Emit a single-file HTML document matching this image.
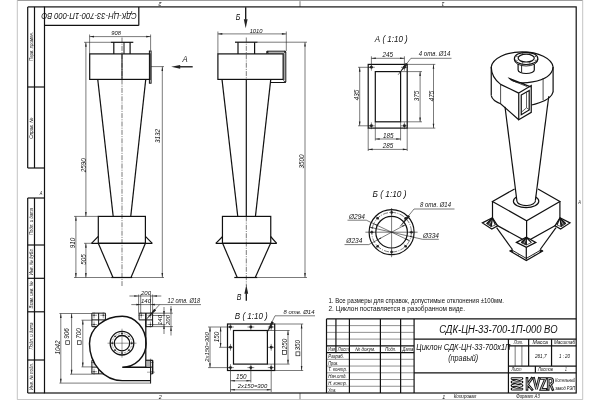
<!DOCTYPE html>
<html><head><meta charset="utf-8"><title>drawing</title>
<style>html,body{margin:0;padding:0;background:#fff}svg{display:block}text{font-family:"Liberation Sans",sans-serif}svg{filter:grayscale(1)}</style></head>
<body>
<svg width="600" height="400" viewBox="0 0 600 400">
<rect width="600" height="400" fill="#fff"/>
<line x1="17.3" y1="0.4" x2="582.7" y2="0.4" stroke="#777" stroke-width="0.8"/>
<line x1="17.3" y1="0.4" x2="17.3" y2="399.6" stroke="#b4b4b4" stroke-width="0.8"/>
<line x1="582.7" y1="0.4" x2="582.7" y2="399.6" stroke="#b4b4b4" stroke-width="0.8"/>
<line x1="17.3" y1="399.6" x2="582.7" y2="399.6" stroke="#b4b4b4" stroke-width="0.8"/>
<rect x="44.5" y="6.9" width="531.7" height="386.1" fill="none" stroke="#111" stroke-width="1.2"/>
<line x1="27.7" y1="6.9" x2="44.5" y2="6.9" stroke="#111" stroke-width="1.2"/>
<line x1="27.7" y1="6.9" x2="27.7" y2="168" stroke="#111" stroke-width="1.2"/>
<line x1="34.5" y1="6.9" x2="34.5" y2="168" stroke="#111" stroke-width="1.2"/>
<line x1="27.7" y1="87" x2="44.5" y2="87" stroke="#111" stroke-width="1.2"/>
<line x1="27.7" y1="168" x2="44.5" y2="168" stroke="#111" stroke-width="1.2"/>
<line x1="27.7" y1="198" x2="27.7" y2="393" stroke="#111" stroke-width="1.2"/>
<line x1="34.5" y1="198" x2="34.5" y2="393" stroke="#111" stroke-width="1.2"/>
<line x1="27.7" y1="198" x2="44.5" y2="198" stroke="#111" stroke-width="1.2"/>
<line x1="27.7" y1="245" x2="44.5" y2="245" stroke="#111" stroke-width="1.2"/>
<line x1="27.7" y1="278.3" x2="44.5" y2="278.3" stroke="#111" stroke-width="1.2"/>
<line x1="27.7" y1="311.8" x2="44.5" y2="311.8" stroke="#111" stroke-width="1.2"/>
<line x1="27.7" y1="360" x2="44.5" y2="360" stroke="#111" stroke-width="1.2"/>
<line x1="27.7" y1="393" x2="44.5" y2="393" stroke="#111" stroke-width="1.2"/>
<text transform="translate(32.8 46.5) rotate(-90)" font-size="5" font-style="italic" font-weight="normal" text-anchor="middle" fill="#111" textLength="29" lengthAdjust="spacingAndGlyphs">Перв. примен.</text>
<text transform="translate(32.8 128.3) rotate(-90)" font-size="5" font-style="italic" font-weight="normal" text-anchor="middle" fill="#111" textLength="21" lengthAdjust="spacingAndGlyphs">Справ. №</text>
<text transform="translate(32.8 221.5) rotate(-90)" font-size="5" font-style="italic" font-weight="normal" text-anchor="middle" fill="#111" textLength="27" lengthAdjust="spacingAndGlyphs">Подп. и дата</text>
<text transform="translate(32.8 261.7) rotate(-90)" font-size="5" font-style="italic" font-weight="normal" text-anchor="middle" fill="#111" textLength="27" lengthAdjust="spacingAndGlyphs">Инв. № дубл.</text>
<text transform="translate(32.8 295) rotate(-90)" font-size="5" font-style="italic" font-weight="normal" text-anchor="middle" fill="#111" textLength="27" lengthAdjust="spacingAndGlyphs">Взам. инв. №</text>
<text transform="translate(32.8 336) rotate(-90)" font-size="5" font-style="italic" font-weight="normal" text-anchor="middle" fill="#111" textLength="27" lengthAdjust="spacingAndGlyphs">Подп. и дата</text>
<text transform="translate(32.8 376.5) rotate(-90)" font-size="5" font-style="italic" font-weight="normal" text-anchor="middle" fill="#111" textLength="27" lengthAdjust="spacingAndGlyphs">Инв. № подл.</text>
<text transform="translate(41 195) scale(0.8 1)" font-size="5" font-style="italic" font-weight="normal" text-anchor="middle" fill="#111">A</text>
<text transform="translate(579.6 204) scale(0.8 1)" font-size="5" font-style="italic" font-weight="normal" text-anchor="middle" fill="#111">A</text>
<text transform="translate(160 1.5) rotate(180)" font-size="5.4" font-style="italic" font-weight="normal" text-anchor="middle" fill="#111">2</text>
<text transform="translate(443 1.5) rotate(180)" font-size="5.4" font-style="italic" font-weight="normal" text-anchor="middle" fill="#111">1</text>
<text transform="translate(160.3 398.6)" font-size="5.4" font-style="italic" font-weight="normal" text-anchor="middle" fill="#111">2</text>
<text transform="translate(443.7 398.6)" font-size="5.4" font-style="italic" font-weight="normal" text-anchor="middle" fill="#111">1</text>
<line x1="300" y1="1.2" x2="300" y2="6.9" stroke="#222" stroke-width="0.6"/>
<line x1="300" y1="393" x2="300" y2="399.2" stroke="#222" stroke-width="0.6"/>
<line x1="44.5" y1="25.4" x2="138.8" y2="25.4" stroke="#111" stroke-width="1.2"/>
<line x1="138.8" y1="6.9" x2="138.8" y2="25.4" stroke="#111" stroke-width="1.2"/>
<text transform="translate(89.1 13.3) rotate(180)" font-size="9.8" font-style="italic" font-weight="normal" text-anchor="middle" fill="#111" textLength="95.5" lengthAdjust="spacingAndGlyphs">СДК-ЦН-33-700-1П-000 ВО</text>
<line x1="326.5" y1="318.88" x2="576.2" y2="318.88" stroke="#111" stroke-width="1.2"/>
<line x1="326.5" y1="318.88" x2="326.5" y2="393" stroke="#111" stroke-width="1.2"/>
<line x1="335.93" y1="318.88" x2="335.93" y2="352.57" stroke="#111" stroke-width="1.2"/>
<line x1="349.41" y1="318.88" x2="349.41" y2="393" stroke="#111" stroke-width="1.2"/>
<line x1="380.4" y1="318.88" x2="380.4" y2="393" stroke="#111" stroke-width="1.2"/>
<line x1="400.62" y1="318.88" x2="400.62" y2="393" stroke="#111" stroke-width="1.2"/>
<line x1="414.09" y1="318.88" x2="414.09" y2="393" stroke="#111" stroke-width="1.2"/>
<line x1="326.5" y1="386.26" x2="414.09" y2="386.26" stroke="#222" stroke-width="0.5"/>
<line x1="326.5" y1="379.52" x2="414.09" y2="379.52" stroke="#222" stroke-width="0.5"/>
<line x1="326.5" y1="372.79" x2="414.09" y2="372.79" stroke="#222" stroke-width="0.5"/>
<line x1="326.5" y1="366.05" x2="414.09" y2="366.05" stroke="#222" stroke-width="0.5"/>
<line x1="326.5" y1="359.31" x2="414.09" y2="359.31" stroke="#222" stroke-width="0.5"/>
<line x1="326.5" y1="352.57" x2="414.09" y2="352.57" stroke="#111" stroke-width="1.2"/>
<line x1="326.5" y1="345.83" x2="414.09" y2="345.83" stroke="#111" stroke-width="1.2"/>
<line x1="326.5" y1="339.1" x2="414.09" y2="339.1" stroke="#222" stroke-width="0.5"/>
<line x1="326.5" y1="332.36" x2="414.09" y2="332.36" stroke="#222" stroke-width="0.5"/>
<line x1="326.5" y1="325.62" x2="414.09" y2="325.62" stroke="#222" stroke-width="0.5"/>
<line x1="414.09" y1="339.1" x2="576.2" y2="339.1" stroke="#111" stroke-width="1.2"/>
<line x1="414.09" y1="372.79" x2="576.2" y2="372.79" stroke="#111" stroke-width="1.2"/>
<line x1="508.43" y1="339.1" x2="508.43" y2="393" stroke="#111" stroke-width="1.2"/>
<line x1="508.43" y1="345.83" x2="576.2" y2="345.83" stroke="#111" stroke-width="1.2"/>
<line x1="508.43" y1="366.05" x2="576.2" y2="366.05" stroke="#111" stroke-width="1.2"/>
<line x1="515.16" y1="345.83" x2="515.16" y2="366.05" stroke="#222" stroke-width="0.6"/>
<line x1="521.9" y1="345.83" x2="521.9" y2="366.05" stroke="#222" stroke-width="0.6"/>
<line x1="528.64" y1="339.1" x2="528.64" y2="366.05" stroke="#111" stroke-width="1.2"/>
<line x1="551.55" y1="339.1" x2="551.55" y2="366.05" stroke="#111" stroke-width="1.2"/>
<line x1="535.38" y1="366.05" x2="535.38" y2="372.79" stroke="#111" stroke-width="1.2"/>
<text transform="translate(328.3 351.07)" font-size="5" font-style="italic" font-weight="normal" text-anchor="start" fill="#111" textLength="6.7" lengthAdjust="spacingAndGlyphs">Изм</text>
<text transform="translate(337.8 351.07)" font-size="5" font-style="italic" font-weight="normal" text-anchor="start" fill="#111" textLength="10.9" lengthAdjust="spacingAndGlyphs">Лист</text>
<text transform="translate(355.3 351.07)" font-size="5" font-style="italic" font-weight="normal" text-anchor="start" fill="#111" textLength="20" lengthAdjust="spacingAndGlyphs">№ докум.</text>
<text transform="translate(385.3 351.07)" font-size="5" font-style="italic" font-weight="normal" text-anchor="start" fill="#111" textLength="10.9" lengthAdjust="spacingAndGlyphs">Подп.</text>
<text transform="translate(402.5 351.07)" font-size="5" font-style="italic" font-weight="normal" text-anchor="start" fill="#111" textLength="10.8" lengthAdjust="spacingAndGlyphs">Дата</text>
<text transform="translate(328.3 357.81)" font-size="5" font-style="italic" font-weight="normal" text-anchor="start" fill="#111" textLength="15.7" lengthAdjust="spacingAndGlyphs">Разраб.</text>
<text transform="translate(328.3 364.55)" font-size="5" font-style="italic" font-weight="normal" text-anchor="start" fill="#111" textLength="10" lengthAdjust="spacingAndGlyphs">Пров.</text>
<text transform="translate(328.3 371.29)" font-size="5" font-style="italic" font-weight="normal" text-anchor="start" fill="#111" textLength="18.7" lengthAdjust="spacingAndGlyphs">Т. контр.</text>
<text transform="translate(328.3 378.02)" font-size="5" font-style="italic" font-weight="normal" text-anchor="start" fill="#111" textLength="18.4" lengthAdjust="spacingAndGlyphs">Нач.отд.</text>
<text transform="translate(328.3 384.76)" font-size="5" font-style="italic" font-weight="normal" text-anchor="start" fill="#111" textLength="18.7" lengthAdjust="spacingAndGlyphs">Н. контр.</text>
<text transform="translate(328.3 391.5)" font-size="5" font-style="italic" font-weight="normal" text-anchor="start" fill="#111" textLength="8" lengthAdjust="spacingAndGlyphs">Утв.</text>
<text transform="translate(498.4 332.7)" font-size="10" font-style="italic" font-weight="normal" text-anchor="middle" fill="#111" textLength="118.2" lengthAdjust="spacingAndGlyphs">СДК-ЦН-33-700-1П-000 ВО</text>
<text transform="translate(463.4 349.8)" font-size="8.6" font-style="italic" font-weight="normal" text-anchor="middle" fill="#111" textLength="94.2" lengthAdjust="spacingAndGlyphs">Циклон СДК-ЦН-33-700х1П</text>
<text transform="translate(463.2 361.4)" font-size="8.6" font-style="italic" font-weight="normal" text-anchor="middle" fill="#111" textLength="30" lengthAdjust="spacingAndGlyphs">(правый)</text>
<text transform="translate(513.7 344.33)" font-size="5" font-style="italic" font-weight="normal" text-anchor="start" fill="#111" textLength="9.5" lengthAdjust="spacingAndGlyphs">Лит.</text>
<text transform="translate(532.5 344.33)" font-size="5" font-style="italic" font-weight="normal" text-anchor="start" fill="#111" textLength="15.5" lengthAdjust="spacingAndGlyphs">Масса</text>
<text transform="translate(554 344.33)" font-size="5" font-style="italic" font-weight="normal" text-anchor="start" fill="#111" textLength="21" lengthAdjust="spacingAndGlyphs">Масштаб</text>
<text transform="translate(535 357.7)" font-size="5.4" font-style="italic" font-weight="normal" text-anchor="start" fill="#111" textLength="11.5" lengthAdjust="spacingAndGlyphs">261,7</text>
<text transform="translate(559 357.7)" font-size="5.4" font-style="italic" font-weight="normal" text-anchor="start" fill="#111" textLength="11" lengthAdjust="spacingAndGlyphs">1 : 20</text>
<text transform="translate(511.5 371.29)" font-size="5" font-style="italic" font-weight="normal" text-anchor="start" fill="#111" textLength="10" lengthAdjust="spacingAndGlyphs">Лист</text>
<text transform="translate(538 371.29)" font-size="5" font-style="italic" font-weight="normal" text-anchor="start" fill="#111" textLength="15" lengthAdjust="spacingAndGlyphs">Листов</text>
<text transform="translate(565 371.29)" font-size="5" font-style="italic" font-weight="normal" text-anchor="start" fill="#111" textLength="1.8" lengthAdjust="spacingAndGlyphs">1</text>
<text transform="translate(453.7 398.2)" font-size="5" font-style="italic" font-weight="normal" text-anchor="start" fill="#111" textLength="22.5" lengthAdjust="spacingAndGlyphs">Копировал</text>
<text transform="translate(516.3 398.2)" font-size="5" font-style="italic" font-weight="normal" text-anchor="start" fill="#111" textLength="23.5" lengthAdjust="spacingAndGlyphs">Формат А3</text>
<text transform="translate(328.5 303.4)" font-size="6.8" font-style="normal" font-weight="normal" text-anchor="start" fill="#111" textLength="175.5" lengthAdjust="spacingAndGlyphs">1. Все размеры для справок, допустимые отклонения ±100мм.</text>
<text transform="translate(328.5 311.2)" font-size="6.8" font-style="normal" font-weight="normal" text-anchor="start" fill="#111" textLength="136.5" lengthAdjust="spacingAndGlyphs">2. Циклон поставляется в разобранном виде.</text>
<path d="M512 378.6L522 378.6L512 382.1L522 382.1L512 385.6L522 385.6L512 389.1L522 389.1" fill="none" stroke="#111" stroke-width="2.7" stroke-linejoin="round" stroke-linecap="round"/>
<path d="M512 378.6L522 378.6L512 382.1L522 382.1L512 385.6L522 385.6L512 389.1L522 389.1" fill="none" stroke="#fff" stroke-width="0.8" stroke-linejoin="round" stroke-linecap="round"/>
<path d="M527 378.4V389.5M531.8 378.4L527.6 384.3L532 389.5M533.8 378.4L536.5 389.3L539.2 378.4M540.8 378.5H545.6L540.9 389.4H546M548.2 389.5V378.5H550.6A2.1 2.7 0 0 1 550.6 384H548.4M550.3 384L552.7 389.5" fill="none" stroke="#111" stroke-width="2.6" stroke-linejoin="miter" stroke-linecap="square"/>
<path d="M527 378.4V389.5M531.8 378.4L527.6 384.3L532 389.5M533.8 378.4L536.5 389.3L539.2 378.4M540.8 378.5H545.6L540.9 389.4H546M548.2 389.5V378.5H550.6A2.1 2.7 0 0 1 550.6 384H548.4M550.3 384L552.7 389.5" fill="none" stroke="#fff" stroke-width="0.7" stroke-linejoin="miter" stroke-linecap="butt"/>
<text transform="translate(555.3 382.4)" font-size="4.8" font-style="italic" font-weight="normal" text-anchor="start" fill="#111" textLength="19.8" lengthAdjust="spacingAndGlyphs">Котельный</text>
<text transform="translate(555.3 389.7)" font-size="4.8" font-style="italic" font-weight="normal" text-anchor="start" fill="#111" textLength="19.8" lengthAdjust="spacingAndGlyphs">завод РЭП</text>
<line x1="122" y1="37.5" x2="122" y2="286" stroke="#222" stroke-width="0.6" stroke-dasharray="5 1.2 1 1.2"/>
<line x1="89.6" y1="34.5" x2="89.6" y2="53.9" stroke="#222" stroke-width="0.6"/>
<line x1="150.6" y1="34.5" x2="150.6" y2="50.5" stroke="#222" stroke-width="0.6"/>
<line x1="89.6" y1="36.6" x2="150.6" y2="36.6" stroke="#222" stroke-width="0.6"/>
<path d="M89.6 36.6L94 35.8L94 37.4Z" fill="#222"/>
<path d="M150.6 36.6L146.2 37.4L146.2 35.8Z" fill="#222"/>
<text transform="translate(116.1 35.4)" font-size="5.8" font-style="italic" font-weight="normal" text-anchor="middle" fill="#111">908</text>
<line x1="110.8" y1="42.3" x2="133.3" y2="42.3" stroke="#111" stroke-width="1.2"/>
<line x1="113.8" y1="42.3" x2="113.8" y2="53.9" stroke="#111" stroke-width="1.2"/>
<line x1="130.1" y1="42.3" x2="130.1" y2="53.9" stroke="#111" stroke-width="1.2"/>
<line x1="124" y1="42.3" x2="124" y2="53.9" stroke="#111" stroke-width="1"/>
<rect x="89.7" y="53.9" width="60.3" height="25.5" fill="none" stroke="#111" stroke-width="1.2"/>
<line x1="122" y1="53.9" x2="122" y2="79.4" stroke="#111" stroke-width="1"/>
<rect x="149.4" y="51" width="1.7" height="32.2" fill="none" stroke="#111" stroke-width="1"/>
<line x1="97.75" y1="79.4" x2="113.2" y2="216.4" stroke="#111" stroke-width="1.2"/>
<line x1="145.75" y1="79.4" x2="130.75" y2="216.4" stroke="#111" stroke-width="1.2"/>
<rect x="98.3" y="216.4" width="47.1" height="26.9" fill="none" stroke="#111" stroke-width="1.2"/>
<line x1="91.5" y1="243.3" x2="152.3" y2="243.3" stroke="#111" stroke-width="1.2"/>
<path d="M91.5 243.3L98.3 236.3M152.3 243.3L145.4 236.3" fill="none" stroke="#111" stroke-width="1.2"/>
<line x1="98.3" y1="243.3" x2="113" y2="277.5" stroke="#111" stroke-width="1.2"/>
<line x1="145.4" y1="243.3" x2="131" y2="277.5" stroke="#111" stroke-width="1.2"/>
<line x1="111.3" y1="277.5" x2="132.3" y2="277.5" stroke="#111" stroke-width="1.2"/>
<line x1="84" y1="42.3" x2="110.8" y2="42.3" stroke="#222" stroke-width="0.6"/>
<line x1="74" y1="216.4" x2="98.7" y2="216.4" stroke="#222" stroke-width="0.6"/>
<line x1="84" y1="243.3" x2="92" y2="243.3" stroke="#222" stroke-width="0.6"/>
<line x1="74" y1="277.5" x2="113" y2="277.5" stroke="#222" stroke-width="0.6"/>
<line x1="85.9" y1="42.3" x2="85.9" y2="216.4" stroke="#222" stroke-width="0.6"/>
<path d="M85.9 42.3L86.7 46.7L85.1 46.7Z" fill="#222"/>
<path d="M85.9 216.4L85.1 212L86.7 212Z" fill="#222"/>
<text transform="translate(85.7 165.2) rotate(-90)" font-size="6.3" font-style="italic" font-weight="normal" text-anchor="middle" fill="#111">2590</text>
<line x1="75.9" y1="216.4" x2="75.9" y2="277.5" stroke="#222" stroke-width="0.6"/>
<path d="M75.9 216.4L76.7 220.8L75.1 220.8Z" fill="#222"/>
<path d="M75.9 277.5L75.1 273.1L76.7 273.1Z" fill="#222"/>
<text transform="translate(74.7 243) rotate(-90)" font-size="6.3" font-style="italic" font-weight="normal" text-anchor="middle" fill="#111">910</text>
<line x1="85.9" y1="243.3" x2="85.9" y2="277.5" stroke="#222" stroke-width="0.6"/>
<path d="M85.9 243.3L86.7 247.7L85.1 247.7Z" fill="#222"/>
<path d="M85.9 277.5L85.1 273.1L86.7 273.1Z" fill="#222"/>
<text transform="translate(85.8 259.5) rotate(-90)" font-size="6.3" font-style="italic" font-weight="normal" text-anchor="middle" fill="#111">505</text>
<line x1="151" y1="66.6" x2="164" y2="66.6" stroke="#222" stroke-width="0.6"/>
<line x1="132" y1="277.5" x2="164" y2="277.5" stroke="#222" stroke-width="0.6"/>
<line x1="162.3" y1="66.6" x2="162.3" y2="277.5" stroke="#222" stroke-width="0.6"/>
<path d="M162.3 66.6L163.1 71L161.5 71Z" fill="#222"/>
<path d="M162.3 277.5L161.5 273.1L163.1 273.1Z" fill="#222"/>
<text transform="translate(160.4 136) rotate(-90)" font-size="6.3" font-style="italic" font-weight="normal" text-anchor="middle" fill="#111">3132</text>
<line x1="179.7" y1="66.8" x2="192.7" y2="66.8" stroke="#111" stroke-width="1.3"/>
<path d="M171.2 66.8L180.2 64.9L180.2 68.7Z" fill="#222"/>
<text transform="translate(185 62.2) scale(0.9 1)" font-size="8.6" font-style="italic" font-weight="normal" text-anchor="middle" fill="#111">A</text>
<line x1="245.7" y1="19.8" x2="245.7" y2="7.3" stroke="#111" stroke-width="1.3"/>
<path d="M245.7 28.3L243.8 19.3L247.6 19.3Z" fill="#222"/>
<text transform="translate(238 19.6) scale(0.82 1)" font-size="8.6" font-style="italic" font-weight="normal" text-anchor="middle" fill="#111">Б</text>
<line x1="217.9" y1="31.5" x2="217.9" y2="53.9" stroke="#222" stroke-width="0.6"/>
<line x1="286.3" y1="31.5" x2="286.3" y2="51" stroke="#222" stroke-width="0.6"/>
<line x1="217.9" y1="33.9" x2="286.3" y2="33.9" stroke="#222" stroke-width="0.6"/>
<path d="M217.9 33.9L222.3 33.1L222.3 34.7Z" fill="#222"/>
<path d="M286.3 33.9L281.9 34.7L281.9 33.1Z" fill="#222"/>
<text transform="translate(256.1 32.5)" font-size="5.8" font-style="italic" font-weight="normal" text-anchor="middle" fill="#111">1010</text>
<line x1="235" y1="42.2" x2="257.6" y2="42.2" stroke="#111" stroke-width="1.2"/>
<line x1="257.6" y1="42.2" x2="307" y2="42.2" stroke="#222" stroke-width="0.6"/>
<line x1="238" y1="42.3" x2="238" y2="53.9" stroke="#111" stroke-width="1.2"/>
<line x1="254.6" y1="42.3" x2="254.6" y2="53.9" stroke="#111" stroke-width="1.2"/>
<rect x="217.9" y="53.9" width="65.25" height="25.5" fill="none" stroke="#111" stroke-width="1.2"/>
<path d="M266.9 53.9V51.2H284.9Q285.8 51.2 285.8 52.1V81.6Q285.8 82.5 284.9 82.5H270.5" fill="none" stroke="#111" stroke-width="1"/>
<path d="M268.3 53.9V53H283.4Q284.1 53 284.1 53.7V80Q284.1 80.7 283.4 80.7H283.15" fill="none" stroke="#222" stroke-width="0.7"/>
<circle cx="267.6" cy="52" r="1.1" fill="#222"/>
<circle cx="285" cy="82" r="1.1" fill="#222"/>
<circle cx="285" cy="51.9" r="1.1" fill="#222"/>
<line x1="222" y1="79.4" x2="237.75" y2="216.4" stroke="#111" stroke-width="1.2"/>
<line x1="270.75" y1="79.4" x2="255.45" y2="216.4" stroke="#111" stroke-width="1.2"/>
<line x1="246.3" y1="37.5" x2="246.3" y2="79.4" stroke="#222" stroke-width="0.6" stroke-dasharray="5 1.2 1 1.2"/>
<line x1="246.3" y1="79.4" x2="246.3" y2="216.4" stroke="#111" stroke-width="1.2"/>
<line x1="246.3" y1="216.4" x2="246.3" y2="286" stroke="#222" stroke-width="0.6" stroke-dasharray="5 1.2 1 1.2"/>
<rect x="222.45" y="216.4" width="48.3" height="26.9" fill="none" stroke="#111" stroke-width="1.2"/>
<line x1="215.8" y1="243.3" x2="276.7" y2="243.3" stroke="#111" stroke-width="1.2"/>
<path d="M215.8 243.3L222.6 236.5M276.7 243.3L270.6 236.5" fill="none" stroke="#111" stroke-width="1.2"/>
<line x1="222.6" y1="243.3" x2="237.25" y2="277.5" stroke="#111" stroke-width="1.2"/>
<line x1="270.6" y1="243.3" x2="255.25" y2="277.5" stroke="#111" stroke-width="1.2"/>
<line x1="234.3" y1="277.5" x2="257.5" y2="277.5" stroke="#111" stroke-width="1.2"/>
<line x1="257.5" y1="277.5" x2="307" y2="277.5" stroke="#222" stroke-width="0.6"/>
<line x1="246.3" y1="293.3" x2="246.3" y2="300.8" stroke="#111" stroke-width="1.3"/>
<path d="M246.3 284.8L248.2 293.8L244.4 293.8Z" fill="#222"/>
<text transform="translate(239 299.8) scale(0.82 1)" font-size="8.6" font-style="italic" font-weight="normal" text-anchor="middle" fill="#111">В</text>
<line x1="305" y1="42.2" x2="305" y2="277.5" stroke="#222" stroke-width="0.6"/>
<path d="M305 42.2L305.8 46.6L304.2 46.6Z" fill="#222"/>
<path d="M305 277.5L304.2 273.1L305.8 273.1Z" fill="#222"/>
<text transform="translate(304.3 161.5) rotate(-90)" font-size="6.3" font-style="italic" font-weight="normal" text-anchor="middle" fill="#111">3500</text>
<text transform="translate(391.3 42.3)" font-size="8.4" font-style="italic" font-weight="normal" text-anchor="middle" fill="#111" textLength="33" lengthAdjust="spacingAndGlyphs">А ( 1:10 )</text>
<rect x="368.2" y="64.4" width="39" height="63.7" fill="none" stroke="#111" stroke-width="1.2"/>
<rect x="375.3" y="71.6" width="25.3" height="50.2" fill="none" stroke="#111" stroke-width="1.2"/>
<line x1="368" y1="67.3" x2="374.8" y2="67.3" stroke="#222" stroke-width="0.55"/>
<line x1="371.4" y1="63.9" x2="371.4" y2="70.7" stroke="#222" stroke-width="0.55"/>
<circle cx="371.4" cy="67.3" r="1.45" fill="#222"/>
<line x1="368" y1="125.8" x2="374.8" y2="125.8" stroke="#222" stroke-width="0.55"/>
<line x1="371.4" y1="122.4" x2="371.4" y2="129.2" stroke="#222" stroke-width="0.55"/>
<circle cx="371.4" cy="125.8" r="1.45" fill="#222"/>
<line x1="401" y1="67.3" x2="407.8" y2="67.3" stroke="#222" stroke-width="0.55"/>
<line x1="404.4" y1="63.9" x2="404.4" y2="70.7" stroke="#222" stroke-width="0.55"/>
<circle cx="404.4" cy="67.3" r="1.45" fill="#222"/>
<line x1="401" y1="125.8" x2="407.8" y2="125.8" stroke="#222" stroke-width="0.55"/>
<line x1="404.4" y1="122.4" x2="404.4" y2="129.2" stroke="#222" stroke-width="0.55"/>
<circle cx="404.4" cy="125.8" r="1.45" fill="#222"/>
<line x1="371.4" y1="56.3" x2="371.4" y2="67" stroke="#222" stroke-width="0.6"/>
<line x1="404.4" y1="56.3" x2="404.4" y2="67" stroke="#222" stroke-width="0.6"/>
<line x1="371.4" y1="58.3" x2="404.4" y2="58.3" stroke="#222" stroke-width="0.6"/>
<path d="M371.4 58.3L375.8 57.5L375.8 59.1Z" fill="#222"/>
<path d="M404.4 58.3L400 59.1L400 57.5Z" fill="#222"/>
<text transform="translate(387.8 56.6)" font-size="6.3" font-style="italic" font-weight="normal" text-anchor="middle" fill="#111">245</text>
<line x1="410.9" y1="58.3" x2="451.5" y2="58.3" stroke="#222" stroke-width="0.6"/>
<line x1="410.9" y1="58.3" x2="398.1" y2="74.8" stroke="#222" stroke-width="0.6"/>
<path d="M398.9 73.8L405.84 62.73L407.89 64.32Z" fill="#222"/>
<text transform="translate(418.8 56.2)" font-size="6.3" font-style="italic" font-weight="normal" text-anchor="start" fill="#111" textLength="31.5" lengthAdjust="spacingAndGlyphs">4 отв. Ø14</text>
<line x1="358" y1="67.3" x2="371.4" y2="67.3" stroke="#222" stroke-width="0.6"/>
<line x1="358" y1="125.8" x2="371.4" y2="125.8" stroke="#222" stroke-width="0.6"/>
<line x1="359.7" y1="67.3" x2="359.7" y2="125.8" stroke="#222" stroke-width="0.6"/>
<path d="M359.7 67.3L360.5 71.7L358.9 71.7Z" fill="#222"/>
<path d="M359.7 125.8L358.9 121.4L360.5 121.4Z" fill="#222"/>
<text transform="translate(358.9 95) rotate(-90)" font-size="6.3" font-style="italic" font-weight="normal" text-anchor="middle" fill="#111">435</text>
<line x1="400.6" y1="71.6" x2="422" y2="71.6" stroke="#222" stroke-width="0.6"/>
<line x1="400.6" y1="121.8" x2="422" y2="121.8" stroke="#222" stroke-width="0.6"/>
<line x1="420.1" y1="71.6" x2="420.1" y2="121.8" stroke="#222" stroke-width="0.6"/>
<path d="M420.1 71.6L420.9 76L419.3 76Z" fill="#222"/>
<path d="M420.1 121.8L419.3 117.4L420.9 117.4Z" fill="#222"/>
<text transform="translate(419.4 96) rotate(-90)" font-size="6.3" font-style="italic" font-weight="normal" text-anchor="middle" fill="#111">375</text>
<line x1="407.2" y1="64.4" x2="435.3" y2="64.4" stroke="#222" stroke-width="0.6"/>
<line x1="407.2" y1="128.1" x2="435.3" y2="128.1" stroke="#222" stroke-width="0.6"/>
<line x1="433.5" y1="64.4" x2="433.5" y2="128.1" stroke="#222" stroke-width="0.6"/>
<path d="M433.5 64.4L434.3 68.8L432.7 68.8Z" fill="#222"/>
<path d="M433.5 128.1L432.7 123.7L434.3 123.7Z" fill="#222"/>
<text transform="translate(433.5 96) rotate(-90)" font-size="6.3" font-style="italic" font-weight="normal" text-anchor="middle" fill="#111">475</text>
<line x1="375.3" y1="121.8" x2="375.3" y2="140.5" stroke="#222" stroke-width="0.6"/>
<line x1="400.6" y1="121.8" x2="400.6" y2="140.5" stroke="#222" stroke-width="0.6"/>
<line x1="375.3" y1="139" x2="400.6" y2="139" stroke="#222" stroke-width="0.6"/>
<path d="M375.3 139L379.7 138.2L379.7 139.8Z" fill="#222"/>
<path d="M400.6 139L396.2 139.8L396.2 138.2Z" fill="#222"/>
<text transform="translate(388.2 138)" font-size="6.3" font-style="italic" font-weight="normal" text-anchor="middle" fill="#111">185</text>
<line x1="368.2" y1="128.1" x2="368.2" y2="151" stroke="#222" stroke-width="0.6"/>
<line x1="407.2" y1="128.1" x2="407.2" y2="151" stroke="#222" stroke-width="0.6"/>
<line x1="368.2" y1="149.4" x2="407.2" y2="149.4" stroke="#222" stroke-width="0.6"/>
<path d="M368.2 149.4L372.6 148.6L372.6 150.2Z" fill="#222"/>
<path d="M407.2 149.4L402.8 150.2L402.8 148.6Z" fill="#222"/>
<text transform="translate(388 148.3)" font-size="6.3" font-style="italic" font-weight="normal" text-anchor="middle" fill="#111">285</text>
<text transform="translate(389.5 196.8)" font-size="8.4" font-style="italic" font-weight="normal" text-anchor="middle" fill="#111" textLength="34" lengthAdjust="spacingAndGlyphs">Б ( 1:10 )</text>
<circle cx="391.6" cy="232.2" r="22.5" fill="none" stroke="#111" stroke-width="1.2"/>
<circle cx="391.6" cy="232.2" r="15.8" fill="none" stroke="#111" stroke-width="1.2"/>
<circle cx="391.6" cy="232.2" r="19.8" fill="none" stroke="#222" stroke-width="0.6" stroke-dasharray="5 1.2 1 1.2"/>
<line x1="365.4" y1="232.2" x2="417.6" y2="232.2" stroke="#222" stroke-width="0.6"/>
<line x1="391.6" y1="208" x2="391.6" y2="257.2" stroke="#222" stroke-width="0.6"/>
<line x1="408.8" y1="232.2" x2="414" y2="232.2" stroke="#222" stroke-width="0.5"/>
<circle cx="411.4" cy="232.2" r="1.3" fill="#222"/>
<line x1="403.76" y1="244.36" x2="407.44" y2="248.04" stroke="#222" stroke-width="0.5"/>
<circle cx="405.6" cy="246.2" r="1.3" fill="#222"/>
<line x1="391.6" y1="249.4" x2="391.6" y2="254.6" stroke="#222" stroke-width="0.5"/>
<circle cx="391.6" cy="252" r="1.3" fill="#222"/>
<line x1="379.44" y1="244.36" x2="375.76" y2="248.04" stroke="#222" stroke-width="0.5"/>
<circle cx="377.6" cy="246.2" r="1.3" fill="#222"/>
<line x1="374.4" y1="232.2" x2="369.2" y2="232.2" stroke="#222" stroke-width="0.5"/>
<circle cx="371.8" cy="232.2" r="1.3" fill="#222"/>
<line x1="379.44" y1="220.04" x2="375.76" y2="216.36" stroke="#222" stroke-width="0.5"/>
<circle cx="377.6" cy="218.2" r="1.3" fill="#222"/>
<line x1="391.6" y1="215" x2="391.6" y2="209.8" stroke="#222" stroke-width="0.5"/>
<circle cx="391.6" cy="212.4" r="1.3" fill="#222"/>
<line x1="403.76" y1="220.04" x2="407.44" y2="216.36" stroke="#222" stroke-width="0.5"/>
<circle cx="405.6" cy="218.2" r="1.3" fill="#222"/>
<line x1="366.3" y1="220.2" x2="409.49" y2="240.69" stroke="#222" stroke-width="0.6"/>
<path d="M409.49 240.69L405.96 239.73L406.52 238.56Z" fill="#222"/>
<path d="M373.71 223.71L377.24 224.67L376.68 225.84Z" fill="#222"/>
<line x1="347.5" y1="220.2" x2="366.3" y2="220.2" stroke="#222" stroke-width="0.6"/>
<text transform="translate(357 218.7)" font-size="6.3" font-style="italic" font-weight="normal" text-anchor="middle" fill="#111" textLength="16" lengthAdjust="spacingAndGlyphs">Ø294</text>
<line x1="368.8" y1="244.6" x2="405.48" y2="224.65" stroke="#222" stroke-width="0.6"/>
<path d="M405.48 224.65L402.63 226.94L402.01 225.8Z" fill="#222"/>
<path d="M377.72 239.75L380.57 237.46L381.19 238.6Z" fill="#222"/>
<line x1="344.5" y1="244.6" x2="368.8" y2="244.6" stroke="#222" stroke-width="0.6"/>
<text transform="translate(354.3 243.1)" font-size="6.3" font-style="italic" font-weight="normal" text-anchor="middle" fill="#111" textLength="16" lengthAdjust="spacingAndGlyphs">Ø234</text>
<line x1="422.5" y1="239.3" x2="369.67" y2="227.16" stroke="#222" stroke-width="0.6"/>
<path d="M369.67 227.16L373.33 227.33L373.03 228.6Z" fill="#222"/>
<path d="M413.53 237.24L409.87 237.07L410.17 235.8Z" fill="#222"/>
<line x1="438.8" y1="239.3" x2="422.5" y2="239.3" stroke="#222" stroke-width="0.6"/>
<text transform="translate(431 237.8)" font-size="6.3" font-style="italic" font-weight="normal" text-anchor="middle" fill="#111" textLength="16" lengthAdjust="spacingAndGlyphs">Ø334</text>
<line x1="414" y1="209" x2="454.5" y2="209" stroke="#222" stroke-width="0.6"/>
<line x1="414" y1="209" x2="400" y2="226.5" stroke="#222" stroke-width="0.6"/>
<path d="M400.6 226.3L408.03 214.95L410.06 216.58Z" fill="#222"/>
<text transform="translate(420 207)" font-size="6.3" font-style="italic" font-weight="normal" text-anchor="start" fill="#111" textLength="31" lengthAdjust="spacingAndGlyphs">8 отв. Ø14</text>
<text transform="translate(251.3 318.5)" font-size="8.4" font-style="italic" font-weight="normal" text-anchor="middle" fill="#111" textLength="33" lengthAdjust="spacingAndGlyphs">В ( 1:10 )</text>
<rect x="227.5" y="324" width="47.2" height="46.5" fill="none" stroke="#111" stroke-width="1.2"/>
<rect x="233.5" y="330.5" width="33.9" height="33.6" fill="none" stroke="#111" stroke-width="1.2"/>
<line x1="227.1" y1="327" x2="233.9" y2="327" stroke="#222" stroke-width="0.55"/>
<line x1="230.5" y1="323.6" x2="230.5" y2="330.4" stroke="#222" stroke-width="0.55"/>
<circle cx="230.5" cy="327" r="1.45" fill="#222"/>
<line x1="227.1" y1="347.3" x2="233.9" y2="347.3" stroke="#222" stroke-width="0.55"/>
<line x1="230.5" y1="343.9" x2="230.5" y2="350.7" stroke="#222" stroke-width="0.55"/>
<circle cx="230.5" cy="347.3" r="1.45" fill="#222"/>
<line x1="227.1" y1="367.6" x2="233.9" y2="367.6" stroke="#222" stroke-width="0.55"/>
<line x1="230.5" y1="364.2" x2="230.5" y2="371" stroke="#222" stroke-width="0.55"/>
<circle cx="230.5" cy="367.6" r="1.45" fill="#222"/>
<line x1="247.45" y1="327" x2="254.25" y2="327" stroke="#222" stroke-width="0.55"/>
<line x1="250.85" y1="323.6" x2="250.85" y2="330.4" stroke="#222" stroke-width="0.55"/>
<circle cx="250.85" cy="327" r="1.45" fill="#222"/>
<line x1="247.45" y1="367.6" x2="254.25" y2="367.6" stroke="#222" stroke-width="0.55"/>
<line x1="250.85" y1="364.2" x2="250.85" y2="371" stroke="#222" stroke-width="0.55"/>
<circle cx="250.85" cy="367.6" r="1.45" fill="#222"/>
<line x1="267.8" y1="327" x2="274.6" y2="327" stroke="#222" stroke-width="0.55"/>
<line x1="271.2" y1="323.6" x2="271.2" y2="330.4" stroke="#222" stroke-width="0.55"/>
<circle cx="271.2" cy="327" r="1.45" fill="#222"/>
<line x1="267.8" y1="347.3" x2="274.6" y2="347.3" stroke="#222" stroke-width="0.55"/>
<line x1="271.2" y1="343.9" x2="271.2" y2="350.7" stroke="#222" stroke-width="0.55"/>
<circle cx="271.2" cy="347.3" r="1.45" fill="#222"/>
<line x1="267.8" y1="367.6" x2="274.6" y2="367.6" stroke="#222" stroke-width="0.55"/>
<line x1="271.2" y1="364.2" x2="271.2" y2="371" stroke="#222" stroke-width="0.55"/>
<circle cx="271.2" cy="367.6" r="1.45" fill="#222"/>
<line x1="275" y1="315.8" x2="315" y2="315.8" stroke="#222" stroke-width="0.6"/>
<line x1="275" y1="315.8" x2="266.9" y2="332.5" stroke="#222" stroke-width="0.6"/>
<path d="M266.9 333.4L271.41 321.14L273.75 322.27Z" fill="#222"/>
<text transform="translate(283.5 314.2)" font-size="6" font-style="italic" font-weight="normal" text-anchor="start" fill="#111" textLength="31" lengthAdjust="spacingAndGlyphs">8 отв. Ø14</text>
<line x1="208" y1="327" x2="230.5" y2="327" stroke="#222" stroke-width="0.6"/>
<line x1="219" y1="347.3" x2="230.5" y2="347.3" stroke="#222" stroke-width="0.6"/>
<line x1="208" y1="367.6" x2="230.5" y2="367.6" stroke="#222" stroke-width="0.6"/>
<line x1="210" y1="327" x2="210" y2="367.6" stroke="#222" stroke-width="0.6"/>
<path d="M210 327L210.8 331.4L209.2 331.4Z" fill="#222"/>
<path d="M210 367.6L209.2 363.2L210.8 363.2Z" fill="#222"/>
<text transform="translate(208.6 347) rotate(-90)" font-size="5.9" font-style="italic" font-weight="normal" text-anchor="middle" fill="#111">2х150=300</text>
<line x1="220.6" y1="327" x2="220.6" y2="347.3" stroke="#222" stroke-width="0.6"/>
<path d="M220.6 327L221.4 331.4L219.8 331.4Z" fill="#222"/>
<path d="M220.6 347.3L219.8 342.9L221.4 342.9Z" fill="#222"/>
<text transform="translate(219.3 337) rotate(-90)" font-size="6.3" font-style="italic" font-weight="normal" text-anchor="middle" fill="#111">150</text>
<line x1="230.5" y1="367.6" x2="230.5" y2="392" stroke="#222" stroke-width="0.6"/>
<line x1="250.85" y1="367.6" x2="250.85" y2="382.5" stroke="#222" stroke-width="0.6"/>
<line x1="271.2" y1="367.6" x2="271.2" y2="392" stroke="#222" stroke-width="0.6"/>
<line x1="230.5" y1="380.8" x2="250.85" y2="380.8" stroke="#222" stroke-width="0.6"/>
<path d="M230.5 380.8L234.9 380L234.9 381.6Z" fill="#222"/>
<path d="M250.85 380.8L246.45 381.6L246.45 380Z" fill="#222"/>
<text transform="translate(241.3 379.2)" font-size="6.3" font-style="italic" font-weight="normal" text-anchor="middle" fill="#111">150</text>
<line x1="230.5" y1="389.8" x2="271.2" y2="389.8" stroke="#222" stroke-width="0.6"/>
<path d="M230.5 389.8L234.9 389L234.9 390.6Z" fill="#222"/>
<path d="M271.2 389.8L266.8 390.6L266.8 389Z" fill="#222"/>
<text transform="translate(252.5 388.2)" font-size="5.9" font-style="italic" font-weight="normal" text-anchor="middle" fill="#111">2х150=300</text>
<line x1="267.4" y1="330.5" x2="289.6" y2="330.5" stroke="#222" stroke-width="0.6"/>
<line x1="267.4" y1="364.1" x2="289.6" y2="364.1" stroke="#222" stroke-width="0.6"/>
<line x1="288" y1="330.5" x2="288" y2="364.1" stroke="#222" stroke-width="0.6"/>
<path d="M288 330.5L288.8 334.9L287.2 334.9Z" fill="#222"/>
<path d="M288 364.1L287.2 359.7L288.8 359.7Z" fill="#222"/>
<text transform="translate(287 344) rotate(-90)" font-size="6.3" font-style="italic" font-weight="normal" text-anchor="middle" fill="#111">250</text>
<rect x="282.65" y="350.45" width="3.9" height="3.9" fill="none" stroke="#222" stroke-width="0.7"/>
<line x1="274.7" y1="324" x2="303.2" y2="324" stroke="#222" stroke-width="0.6"/>
<line x1="274.7" y1="370.5" x2="303.2" y2="370.5" stroke="#222" stroke-width="0.6"/>
<line x1="301.6" y1="324" x2="301.6" y2="370.5" stroke="#222" stroke-width="0.6"/>
<path d="M301.6 324L302.4 328.4L300.8 328.4Z" fill="#222"/>
<path d="M301.6 370.5L300.8 366.1L302.4 366.1Z" fill="#222"/>
<text transform="translate(300.2 345.3) rotate(-90)" font-size="6.3" font-style="italic" font-weight="normal" text-anchor="middle" fill="#111">350</text>
<rect x="295.95" y="351.85" width="3.9" height="3.9" fill="none" stroke="#222" stroke-width="0.7"/>
<path d="M105.4 313.15L91.9 313.15L91.9 326.65L98.65 326.65L98.65 319.9L105.4 319.9Z" fill="none" stroke="#111" stroke-width="1"/>
<line x1="98.65" y1="313.15" x2="98.65" y2="319.9" stroke="#111" stroke-width="1"/>
<line x1="98.65" y1="319.9" x2="91.9" y2="319.9" stroke="#111" stroke-width="1"/>
<circle cx="94.05" cy="315.3" r="0.7" fill="#222"/>
<line x1="91.05" y1="315.3" x2="97.05" y2="315.3" stroke="#222" stroke-width="0.45"/>
<line x1="94.05" y1="312.3" x2="94.05" y2="318.3" stroke="#222" stroke-width="0.45"/>
<circle cx="94.05" cy="324.5" r="0.7" fill="#222"/>
<line x1="91.05" y1="324.5" x2="97.05" y2="324.5" stroke="#222" stroke-width="0.45"/>
<line x1="94.05" y1="321.5" x2="94.05" y2="327.5" stroke="#222" stroke-width="0.45"/>
<circle cx="103.25" cy="315.3" r="0.7" fill="#222"/>
<line x1="100.25" y1="315.3" x2="106.25" y2="315.3" stroke="#222" stroke-width="0.45"/>
<line x1="103.25" y1="312.3" x2="103.25" y2="318.3" stroke="#222" stroke-width="0.45"/>
<path d="M105.4 373.85L91.9 373.85L91.9 360.35L98.65 360.35L98.65 367.1L105.4 367.1Z" fill="none" stroke="#111" stroke-width="1"/>
<line x1="98.65" y1="373.85" x2="98.65" y2="367.1" stroke="#111" stroke-width="1"/>
<line x1="98.65" y1="367.1" x2="91.9" y2="367.1" stroke="#111" stroke-width="1"/>
<circle cx="94.05" cy="362.5" r="0.7" fill="#222"/>
<line x1="91.05" y1="362.5" x2="97.05" y2="362.5" stroke="#222" stroke-width="0.45"/>
<line x1="94.05" y1="359.5" x2="94.05" y2="365.5" stroke="#222" stroke-width="0.45"/>
<circle cx="94.05" cy="371.7" r="0.7" fill="#222"/>
<line x1="91.05" y1="371.7" x2="97.05" y2="371.7" stroke="#222" stroke-width="0.45"/>
<line x1="94.05" y1="368.7" x2="94.05" y2="374.7" stroke="#222" stroke-width="0.45"/>
<circle cx="103.25" cy="371.7" r="0.7" fill="#222"/>
<line x1="100.25" y1="371.7" x2="106.25" y2="371.7" stroke="#222" stroke-width="0.45"/>
<line x1="103.25" y1="368.7" x2="103.25" y2="374.7" stroke="#222" stroke-width="0.45"/>
<path d="M139.1 313.15L152.6 313.15L152.6 326.65L145.85 326.65L145.85 319.9L139.1 319.9Z" fill="none" stroke="#111" stroke-width="1"/>
<line x1="145.85" y1="313.15" x2="145.85" y2="319.9" stroke="#111" stroke-width="1"/>
<line x1="145.85" y1="319.9" x2="152.6" y2="319.9" stroke="#111" stroke-width="1"/>
<circle cx="141.25" cy="315.3" r="0.7" fill="#222"/>
<line x1="138.25" y1="315.3" x2="144.25" y2="315.3" stroke="#222" stroke-width="0.45"/>
<line x1="141.25" y1="312.3" x2="141.25" y2="318.3" stroke="#222" stroke-width="0.45"/>
<circle cx="150.45" cy="315.3" r="0.7" fill="#222"/>
<line x1="147.45" y1="315.3" x2="153.45" y2="315.3" stroke="#222" stroke-width="0.45"/>
<line x1="150.45" y1="312.3" x2="150.45" y2="318.3" stroke="#222" stroke-width="0.45"/>
<circle cx="150.45" cy="324.5" r="0.7" fill="#222"/>
<line x1="147.45" y1="324.5" x2="153.45" y2="324.5" stroke="#222" stroke-width="0.45"/>
<line x1="150.45" y1="321.5" x2="150.45" y2="327.5" stroke="#222" stroke-width="0.45"/>
<path d="M139.1 373.85L152.6 373.85L152.6 360.35L145.85 360.35L145.85 367.1L139.1 367.1Z" fill="none" stroke="#111" stroke-width="1"/>
<line x1="145.85" y1="373.85" x2="145.85" y2="367.1" stroke="#111" stroke-width="1"/>
<line x1="145.85" y1="367.1" x2="152.6" y2="367.1" stroke="#111" stroke-width="1"/>
<circle cx="141.25" cy="371.7" r="0.7" fill="#222"/>
<line x1="138.25" y1="371.7" x2="144.25" y2="371.7" stroke="#222" stroke-width="0.45"/>
<line x1="141.25" y1="368.7" x2="141.25" y2="374.7" stroke="#222" stroke-width="0.45"/>
<circle cx="150.45" cy="362.5" r="0.7" fill="#222"/>
<line x1="147.45" y1="362.5" x2="153.45" y2="362.5" stroke="#222" stroke-width="0.45"/>
<line x1="150.45" y1="359.5" x2="150.45" y2="365.5" stroke="#222" stroke-width="0.45"/>
<circle cx="150.45" cy="371.7" r="0.7" fill="#222"/>
<line x1="147.45" y1="371.7" x2="153.45" y2="371.7" stroke="#222" stroke-width="0.45"/>
<line x1="150.45" y1="368.7" x2="150.45" y2="374.7" stroke="#222" stroke-width="0.45"/>
<path d="M150.6 380.6L122.25 380.6A32.75 37.1 0 0 1 89.5 343.5A32.75 27.25 0 0 1 122.25 316.25A24 27.25 0 0 1 146.1 343.5L146.1 367.25L150.6 367.25Z" fill="#fff" stroke="none"/>
<path d="M150.6 380.6L122.25 380.6A32.75 37.1 0 0 1 89.5 343.5A32.75 27.25 0 0 1 122.25 316.25A24 27.25 0 0 1 146.1 343.5A24 23.75 0 0 1 122.25 367.25L150.6 367.25" fill="none" stroke="#111" stroke-width="1.45"/>
<line x1="145.8" y1="313.3" x2="145.8" y2="367.25" stroke="#111" stroke-width="1.25"/>
<line x1="150.6" y1="360.6" x2="150.6" y2="383.5" stroke="#111" stroke-width="1"/>
<line x1="146" y1="360.3" x2="152.8" y2="360.3" stroke="#111" stroke-width="1"/>
<line x1="152.8" y1="360.3" x2="152.8" y2="374" stroke="#111" stroke-width="1"/>
<rect x="146.4" y="360.8" width="4" height="6" fill="#b0b0b0"/>
<line x1="147" y1="372.2" x2="155" y2="372.2" stroke="#222" stroke-width="0.4"/>
<line x1="150.6" y1="358.5" x2="150.6" y2="376" stroke="#222" stroke-width="0.4"/>
<circle cx="122" cy="343.2" r="11.8" fill="none" stroke="#111" stroke-width="1.3"/>
<circle cx="122" cy="343.2" r="7.7" fill="none" stroke="#111" stroke-width="1.3"/>
<circle cx="122" cy="343.2" r="9.8" fill="none" stroke="#222" stroke-width="0.4" stroke-dasharray="2 0.8"/>
<line x1="107.5" y1="343.2" x2="136.5" y2="343.2" stroke="#222" stroke-width="0.45"/>
<line x1="122" y1="328.7" x2="122" y2="357.7" stroke="#222" stroke-width="0.45"/>
<circle cx="131.8" cy="343.2" r="0.85" fill="#222"/>
<circle cx="128.93" cy="350.13" r="0.85" fill="#222"/>
<circle cx="122" cy="353" r="0.85" fill="#222"/>
<circle cx="115.07" cy="350.13" r="0.85" fill="#222"/>
<circle cx="112.2" cy="343.2" r="0.85" fill="#222"/>
<circle cx="115.07" cy="336.27" r="0.85" fill="#222"/>
<circle cx="122" cy="333.4" r="0.85" fill="#222"/>
<circle cx="128.93" cy="336.27" r="0.85" fill="#222"/>
<line x1="59.4" y1="313.5" x2="92" y2="313.5" stroke="#222" stroke-width="0.6"/>
<line x1="59.4" y1="383.1" x2="150.6" y2="383.1" stroke="#222" stroke-width="0.6"/>
<line x1="60.8" y1="313.5" x2="60.8" y2="383.1" stroke="#222" stroke-width="0.6"/>
<path d="M60.8 313.5L61.6 317.9L60 317.9Z" fill="#222"/>
<path d="M60.8 383.1L60 378.7L61.6 378.7Z" fill="#222"/>
<text transform="translate(59.6 347.5) rotate(-90)" font-size="6.3" font-style="italic" font-weight="normal" text-anchor="middle" fill="#111">1042</text>
<line x1="70" y1="374.2" x2="92" y2="374.2" stroke="#222" stroke-width="0.6"/>
<line x1="71.6" y1="313.5" x2="71.6" y2="374.2" stroke="#222" stroke-width="0.6"/>
<path d="M71.6 313.5L72.4 317.9L70.8 317.9Z" fill="#222"/>
<path d="M71.6 374.2L70.8 369.8L72.4 369.8Z" fill="#222"/>
<text transform="translate(69.4 333.5) rotate(-90)" font-size="6.3" font-style="italic" font-weight="normal" text-anchor="middle" fill="#111">906</text>
<rect x="65.75" y="340.75" width="3.7" height="3.7" fill="none" stroke="#222" stroke-width="0.7"/>
<line x1="81.5" y1="320.2" x2="92" y2="320.2" stroke="#222" stroke-width="0.6"/>
<line x1="81.5" y1="366.9" x2="92" y2="366.9" stroke="#222" stroke-width="0.6"/>
<line x1="82.8" y1="320.2" x2="82.8" y2="366.9" stroke="#222" stroke-width="0.6"/>
<path d="M82.8 320.2L83.6 324.6L82 324.6Z" fill="#222"/>
<path d="M82.8 366.9L82 362.5L83.6 362.5Z" fill="#222"/>
<text transform="translate(81.1 333.5) rotate(-90)" font-size="6.3" font-style="italic" font-weight="normal" text-anchor="middle" fill="#111">700</text>
<rect x="77.45" y="340.75" width="3.7" height="3.7" fill="none" stroke="#222" stroke-width="0.7"/>
<line x1="138.6" y1="294.5" x2="138.6" y2="313.5" stroke="#222" stroke-width="0.6"/>
<line x1="140.7" y1="294.5" x2="140.7" y2="313.5" stroke="#222" stroke-width="0.6"/>
<line x1="150.5" y1="294.5" x2="150.5" y2="313.5" stroke="#222" stroke-width="0.6"/>
<line x1="152.6" y1="294.5" x2="152.6" y2="313.5" stroke="#222" stroke-width="0.6"/>
<line x1="129.4" y1="296" x2="161.3" y2="296" stroke="#222" stroke-width="0.6"/>
<path d="M138.6 296L134.2 296.8L134.2 295.2Z" fill="#222"/>
<path d="M152.6 296L157 295.2L157 296.8Z" fill="#222"/>
<text transform="translate(146 294.6)" font-size="6" font-style="italic" font-weight="normal" text-anchor="middle" fill="#111">200</text>
<line x1="131.3" y1="304.6" x2="201" y2="304.6" stroke="#222" stroke-width="0.6"/>
<path d="M140.7 304.6L136.3 305.4L136.3 303.8Z" fill="#222"/>
<path d="M150.5 304.6L154.9 303.8L154.9 305.4Z" fill="#222"/>
<text transform="translate(146 303.2)" font-size="6" font-style="italic" font-weight="normal" text-anchor="middle" fill="#111">140</text>
<line x1="159.6" y1="304.6" x2="146.5" y2="319" stroke="#222" stroke-width="0.6"/>
<path d="M146.3 319.6L154.27 308.63L156.15 310.28Z" fill="#222"/>
<text transform="translate(167.6 303)" font-size="6.3" font-style="italic" font-weight="normal" text-anchor="start" fill="#111" textLength="32.5" lengthAdjust="spacingAndGlyphs">12 отв. Ø18</text>
<line x1="152.8" y1="313.2" x2="172.8" y2="313.2" stroke="#222" stroke-width="0.6"/>
<line x1="152.8" y1="326.6" x2="172.8" y2="326.6" stroke="#222" stroke-width="0.6"/>
<line x1="152.8" y1="315.5" x2="165.5" y2="315.5" stroke="#222" stroke-width="0.6"/>
<line x1="152.8" y1="324.6" x2="165.5" y2="324.6" stroke="#222" stroke-width="0.6"/>
<line x1="164" y1="307" x2="164" y2="334" stroke="#222" stroke-width="0.6"/>
<path d="M164 315.5L163.2 311.1L164.8 311.1Z" fill="#222"/>
<path d="M164 324.6L164.8 329L163.2 329Z" fill="#222"/>
<line x1="171" y1="306" x2="171" y2="335.5" stroke="#222" stroke-width="0.6"/>
<path d="M171 313.2L170.2 308.8L171.8 308.8Z" fill="#222"/>
<path d="M171 326.6L171.8 331L170.2 331Z" fill="#222"/>
<text transform="translate(162.4 320) rotate(-90)" font-size="6" font-style="italic" font-weight="normal" text-anchor="middle" fill="#111">140</text>
<text transform="translate(169.7 320) rotate(-90)" font-size="6" font-style="italic" font-weight="normal" text-anchor="middle" fill="#111">200</text>
<ellipse cx="526.1" cy="201.3" rx="12.7" ry="6.4" fill="none" stroke="#111" stroke-width="1.2"/>
<path d="M505 106.9L517 201.3A9.2 4.7 0 0 0 535.4 200L548.75 96.25Z" fill="#fff"/>
<path d="M491.25 95.6V67A31 16.2 0 0 1 553.1 67V91.9" fill="none" stroke="#111" stroke-width="1.2"/>
<path d="M491.25 67C491.3 73 493 78.5 500.6 84.4L518.75 93.1" fill="none" stroke="#111" stroke-width="1.2"/>
<path d="M553.1 67C552.5 73 547 79.5 532.5 81.9C527 82.8 518 83 514 81.3C511.5 80.3 510 79.3 509.4 78.5L530.6 86.9" fill="none" stroke="#111" stroke-width="1.2"/>
<line x1="511.5" y1="80.3" x2="527" y2="86.5" stroke="#222" stroke-width="0.8"/>
<line x1="500.6" y1="84.4" x2="500.6" y2="103.6" stroke="#222" stroke-width="0.8"/>
<line x1="543.1" y1="78" x2="543.1" y2="100" stroke="#222" stroke-width="0.8"/>
<path d="M491.25 95.6C492 99 495 101.6 500.6 103.75L518.75 119.75" fill="none" stroke="#111" stroke-width="1.2"/>
<path d="M553.1 91.9C552 96.5 546 100.5 540 102.5C537 103.6 534 104.6 531.5 105" fill="none" stroke="#111" stroke-width="1.2"/>
<ellipse cx="526.1" cy="58.4" rx="11.7" ry="6.1" fill="none" stroke="#111" stroke-width="1.2"/>
<ellipse cx="526.2" cy="58.1" rx="8.1" ry="3.9" fill="none" stroke="#111" stroke-width="1.2"/>
<path d="M514.4 58.9V59.9A11.7 6.1 0 0 0 537.8 59.9V58.9" fill="none" stroke="#111" stroke-width="0.9"/>
<circle cx="535.25" cy="60.21" r="0.55" fill="#222"/>
<circle cx="529.89" cy="62.92" r="0.55" fill="#222"/>
<circle cx="522.31" cy="62.92" r="0.55" fill="#222"/>
<circle cx="516.95" cy="60.21" r="0.55" fill="#222"/>
<circle cx="516.95" cy="56.39" r="0.55" fill="#222"/>
<circle cx="522.31" cy="53.68" r="0.55" fill="#222"/>
<circle cx="529.89" cy="53.68" r="0.55" fill="#222"/>
<circle cx="535.25" cy="56.39" r="0.55" fill="#222"/>
<line x1="518.1" y1="64" x2="518.1" y2="70" stroke="#111" stroke-width="1.2"/>
<line x1="534.3" y1="64.2" x2="534.3" y2="70" stroke="#111" stroke-width="1.2"/>
<line x1="521.6" y1="65.2" x2="521.6" y2="72.3" stroke="#111" stroke-width="0.9"/>
<path d="M518.1 70A8.1 3.5 0 0 0 534.3 70" fill="none" stroke="#111" stroke-width="1.2"/>
<path d="M518.75 93.1L531.25 85.6V112.3L518.75 119.75Z" fill="none" stroke="#111" stroke-width="1.2"/>
<path d="M521.25 95L529.2 90.5V110L521.25 114.8Z" fill="none" stroke="#111" stroke-width="1.2"/>
<path d="M526.5 92.3V107.8L521.25 112.3M526.5 107.8L529.2 109.6" fill="none" stroke="#222" stroke-width="0.7"/>
<path d="M514.6 188.9L492.5 201.5L526.6 220.75L559.9 201.5L538 189" fill="none" stroke="#111" stroke-width="1.2"/>
<line x1="492.5" y1="201.5" x2="492.5" y2="218" stroke="#111" stroke-width="1.2"/>
<line x1="526.6" y1="220.75" x2="526.6" y2="237.5" stroke="#111" stroke-width="1.2"/>
<line x1="559.9" y1="201.5" x2="559.9" y2="218" stroke="#111" stroke-width="1.2"/>
<path d="M492.5 222.9L526.6 241.6L559.9 222.9" fill="none" stroke="#111" stroke-width="1.2"/>
<path d="M517 201.3A9.2 4.7 0 0 0 535.4 200.3" fill="none" stroke="#111" stroke-width="1.2"/>
<line x1="505" y1="106.9" x2="517" y2="201.5" stroke="#111" stroke-width="1.2"/>
<line x1="548.75" y1="96.25" x2="535.4" y2="200.3" stroke="#111" stroke-width="1.2"/>
<path d="M482.4 222.9L492.4 217.7L497.6 225.8L491.8 229Z" fill="#fff" stroke="#111" stroke-width="1.25"/>
<path d="M492.4 218L486.6 223.6L491.2 226.6Z" fill="#333" stroke="#222" stroke-width="0.5"/>
<path d="M492.4 219.6L488.9 224.8" fill="none" stroke="#fff" stroke-width="0.5"/>
<line x1="492.4" y1="218" x2="486.6" y2="223.6" stroke="#111" stroke-width="1.1"/>
<line x1="492.4" y1="218" x2="491.2" y2="226.6" stroke="#111" stroke-width="1.1"/>
<line x1="492.4" y1="218" x2="495.4" y2="225" stroke="#111" stroke-width="1.1"/>
<path d="M486.6 223.6L491.2 226.6L495.4 225" fill="none" stroke="#222" stroke-width="0.7"/>
<path d="M555 225.8L560 217.7L570 222.9L560.6 229Z" fill="#fff" stroke="#111" stroke-width="1.25"/>
<path d="M560 218L565.8 223.6L561.2 226.6Z" fill="#333" stroke="#222" stroke-width="0.5"/>
<path d="M560 219.6L563.5 224.8" fill="none" stroke="#fff" stroke-width="0.5"/>
<line x1="560" y1="218" x2="565.8" y2="223.6" stroke="#111" stroke-width="1.1"/>
<line x1="560" y1="218" x2="561.2" y2="226.6" stroke="#111" stroke-width="1.1"/>
<line x1="560" y1="218" x2="557" y2="225" stroke="#111" stroke-width="1.1"/>
<path d="M565.8 223.6L561.2 226.6L557 225" fill="none" stroke="#222" stroke-width="0.7"/>
<path d="M516.5 242.4L526.3 237.2L535.8 242.4L526.3 247.2Z" fill="#fff" stroke="#111" stroke-width="1.25"/>
<path d="M526.3 237.5L521.2 242.6L526.3 245Z" fill="#333" stroke="#222" stroke-width="0.5"/>
<path d="M526.3 239.1L523.75 243.5" fill="none" stroke="#fff" stroke-width="0.5"/>
<line x1="526.3" y1="237.5" x2="521.2" y2="242.6" stroke="#111" stroke-width="1.1"/>
<line x1="526.3" y1="237.5" x2="526.3" y2="245" stroke="#111" stroke-width="1.1"/>
<line x1="526.3" y1="237.5" x2="531.4" y2="242.6" stroke="#111" stroke-width="1.1"/>
<path d="M521.2 242.6L526.3 245L531.4 242.6" fill="none" stroke="#222" stroke-width="0.7"/>
<line x1="496.6" y1="227.7" x2="512.4" y2="249.5" stroke="#111" stroke-width="1.2"/>
<line x1="556" y1="227.7" x2="540.2" y2="249.5" stroke="#111" stroke-width="1.2"/>
<line x1="526.3" y1="247.2" x2="526.3" y2="259.5" stroke="#111" stroke-width="1.2"/>
<path d="M509.6 250.8L526.3 260.5L543.1 250.8" fill="none" stroke="#111" stroke-width="1.2"/>
<path d="M512.4 250.3L526.3 258.4L540.3 250.3" fill="none" stroke="#111" stroke-width="0.9"/>
<path d="M509.6 250.8L512.4 249.2L513 252.4Z" fill="#111" stroke="#222" stroke-width="0.4"/>
<path d="M543.1 250.8L540.3 249.2L539.7 252.4Z" fill="#111" stroke="#222" stroke-width="0.4"/>
<path d="M518.6 254.4L518 255.9M534 254.4L534.6 255.9" fill="none" stroke="#222" stroke-width="0.8"/>
</svg>
</body></html>
